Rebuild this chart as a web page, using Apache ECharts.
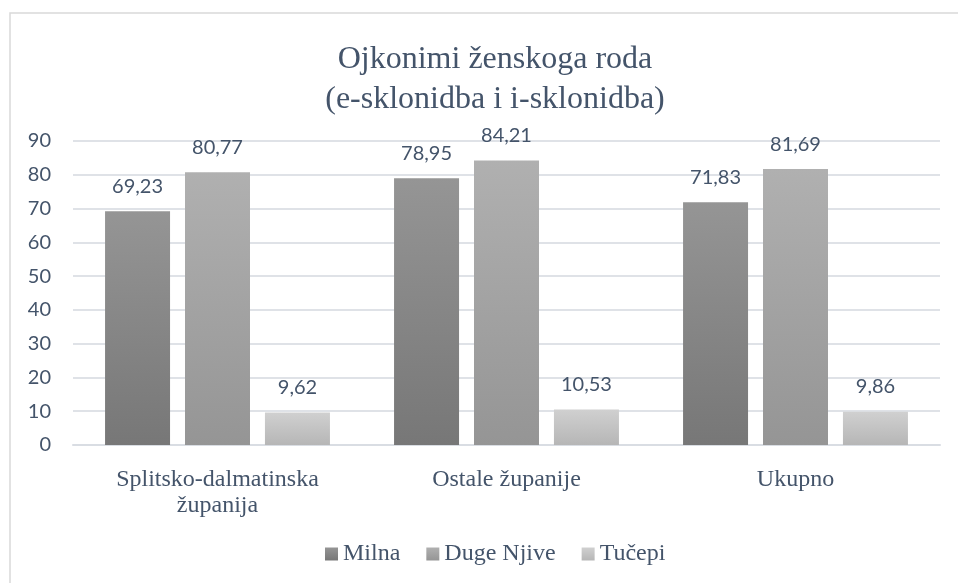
<!DOCTYPE html>
<html>
<head>
<meta charset="utf-8">
<script src="https://cdn.jsdelivr.net/npm/echarts@6/dist/echarts.min.js"></script>
<style>
html,body{margin:0;padding:0;background:#fff;}
#chart{width:958px;height:583px;}
</style>
</head>
<body>
<div id="chart"></div>
<script>
const titleLines = ['Ojkonimi ženskoga roda', '(e-sklonidba i i-sklonidba)'];
const categories = ['Splitsko-dalmatinska\nžupanija', 'Ostale županije', 'Ukupno'];
const seriesNames = ['Milna', 'Duge Njive', 'Tučepi'];
const milna = [69.23, 78.95, 71.83];
const dugeNjive = [80.77, 84.21, 81.69];
const tucepi = [9.62, 10.53, 9.86];
const yMin = 0, yMax = 90, yInterval = 10;

const gradients = [
  ['#959595', '#777777'],
  ['#b0b0b0', '#959595'],
  ['#d0d0d0', '#b6b6b6']
];
const textColor = '#44546a';
const sansFont = 'Lato';
const serifFont = 'Liberation Serif';

function grad(c) {
  return new echarts.graphic.LinearGradient(0, 0, 0, 1, [
    { offset: 0, color: c[0] },
    { offset: 1, color: c[1] }
  ]);
}

const legendText = { fontFamily: serifFont, fontSize: 24, color: textColor };
const dataSets = [milna, dugeNjive, tucepi];
const chart = echarts.init(document.getElementById('chart'), null, { renderer: 'canvas' });
chart.setOption({
  animation: false,
  backgroundColor: '#ffffff',
  textStyle: { fontFamily: serifFont },
  graphic: [{
    type: 'rect',
    shape: { x: 10, y: 13, width: 980, height: 620 },
    style: { fill: 'none', stroke: '#d9d9d9', lineWidth: 1.5 },
    silent: true,
    z: -10
  }],
  title: {
    text: titleLines.join('\n'),
    left: 490,
    textAlign: 'center',
    top: 35,
    textStyle: {
      fontFamily: serifFont,
      fontSize: 32,
      fontWeight: 'normal',
      color: textColor,
      lineHeight: 40
    }
  },
  legend: {
    bottom: 12,
    left: 320,
    itemWidth: 13,
    itemHeight: 13,
    itemGap: 26,
    icon: 'rect',
    textStyle: legendText,
    data: seriesNames
  },
  grid: {
    left: 73,
    right: 18,
    top: 141,
    bottom: 138,
    containLabel: false
  },
  xAxis: {
    type: 'category',
    data: categories,
    axisLine: { show: true, lineStyle: { color: '#d9dde3', width: 2 } },
    axisTick: { show: false },
    axisLabel: {
      margin: 22,
      fontFamily: serifFont,
      fontSize: 24,
      lineHeight: 26,
      color: textColor,
      interval: 0
    }
  },
  yAxis: {
    type: 'value',
    min: yMin,
    max: yMax,
    interval: yInterval,
    axisLine: { show: false },
    axisTick: { show: false },
    splitLine: { lineStyle: { color: '#dfe2e7', width: 2 } },
    axisLabel: {
      margin: 22,
      fontFamily: sansFont,
      fontSize: 20,
      color: textColor
    }
  },
  series: seriesNames.map((name, i) => ({
    name: name,
    type: 'bar',
    data: dataSets[i],
    barWidth: 65,
    barGap: '23%',
    itemStyle: { color: grad(gradients[i]) },
    label: {
      show: true,
      position: 'top',
      distance: 15,
      color: textColor,
      formatter: p => '{v|' + p.value.toFixed(2).replace('.', ',') + '}',
      rich: {
        v: { fontFamily: sansFont, fontSize: 20, color: textColor }
      }
    }
  }))
});
</script>
</body>
</html>
